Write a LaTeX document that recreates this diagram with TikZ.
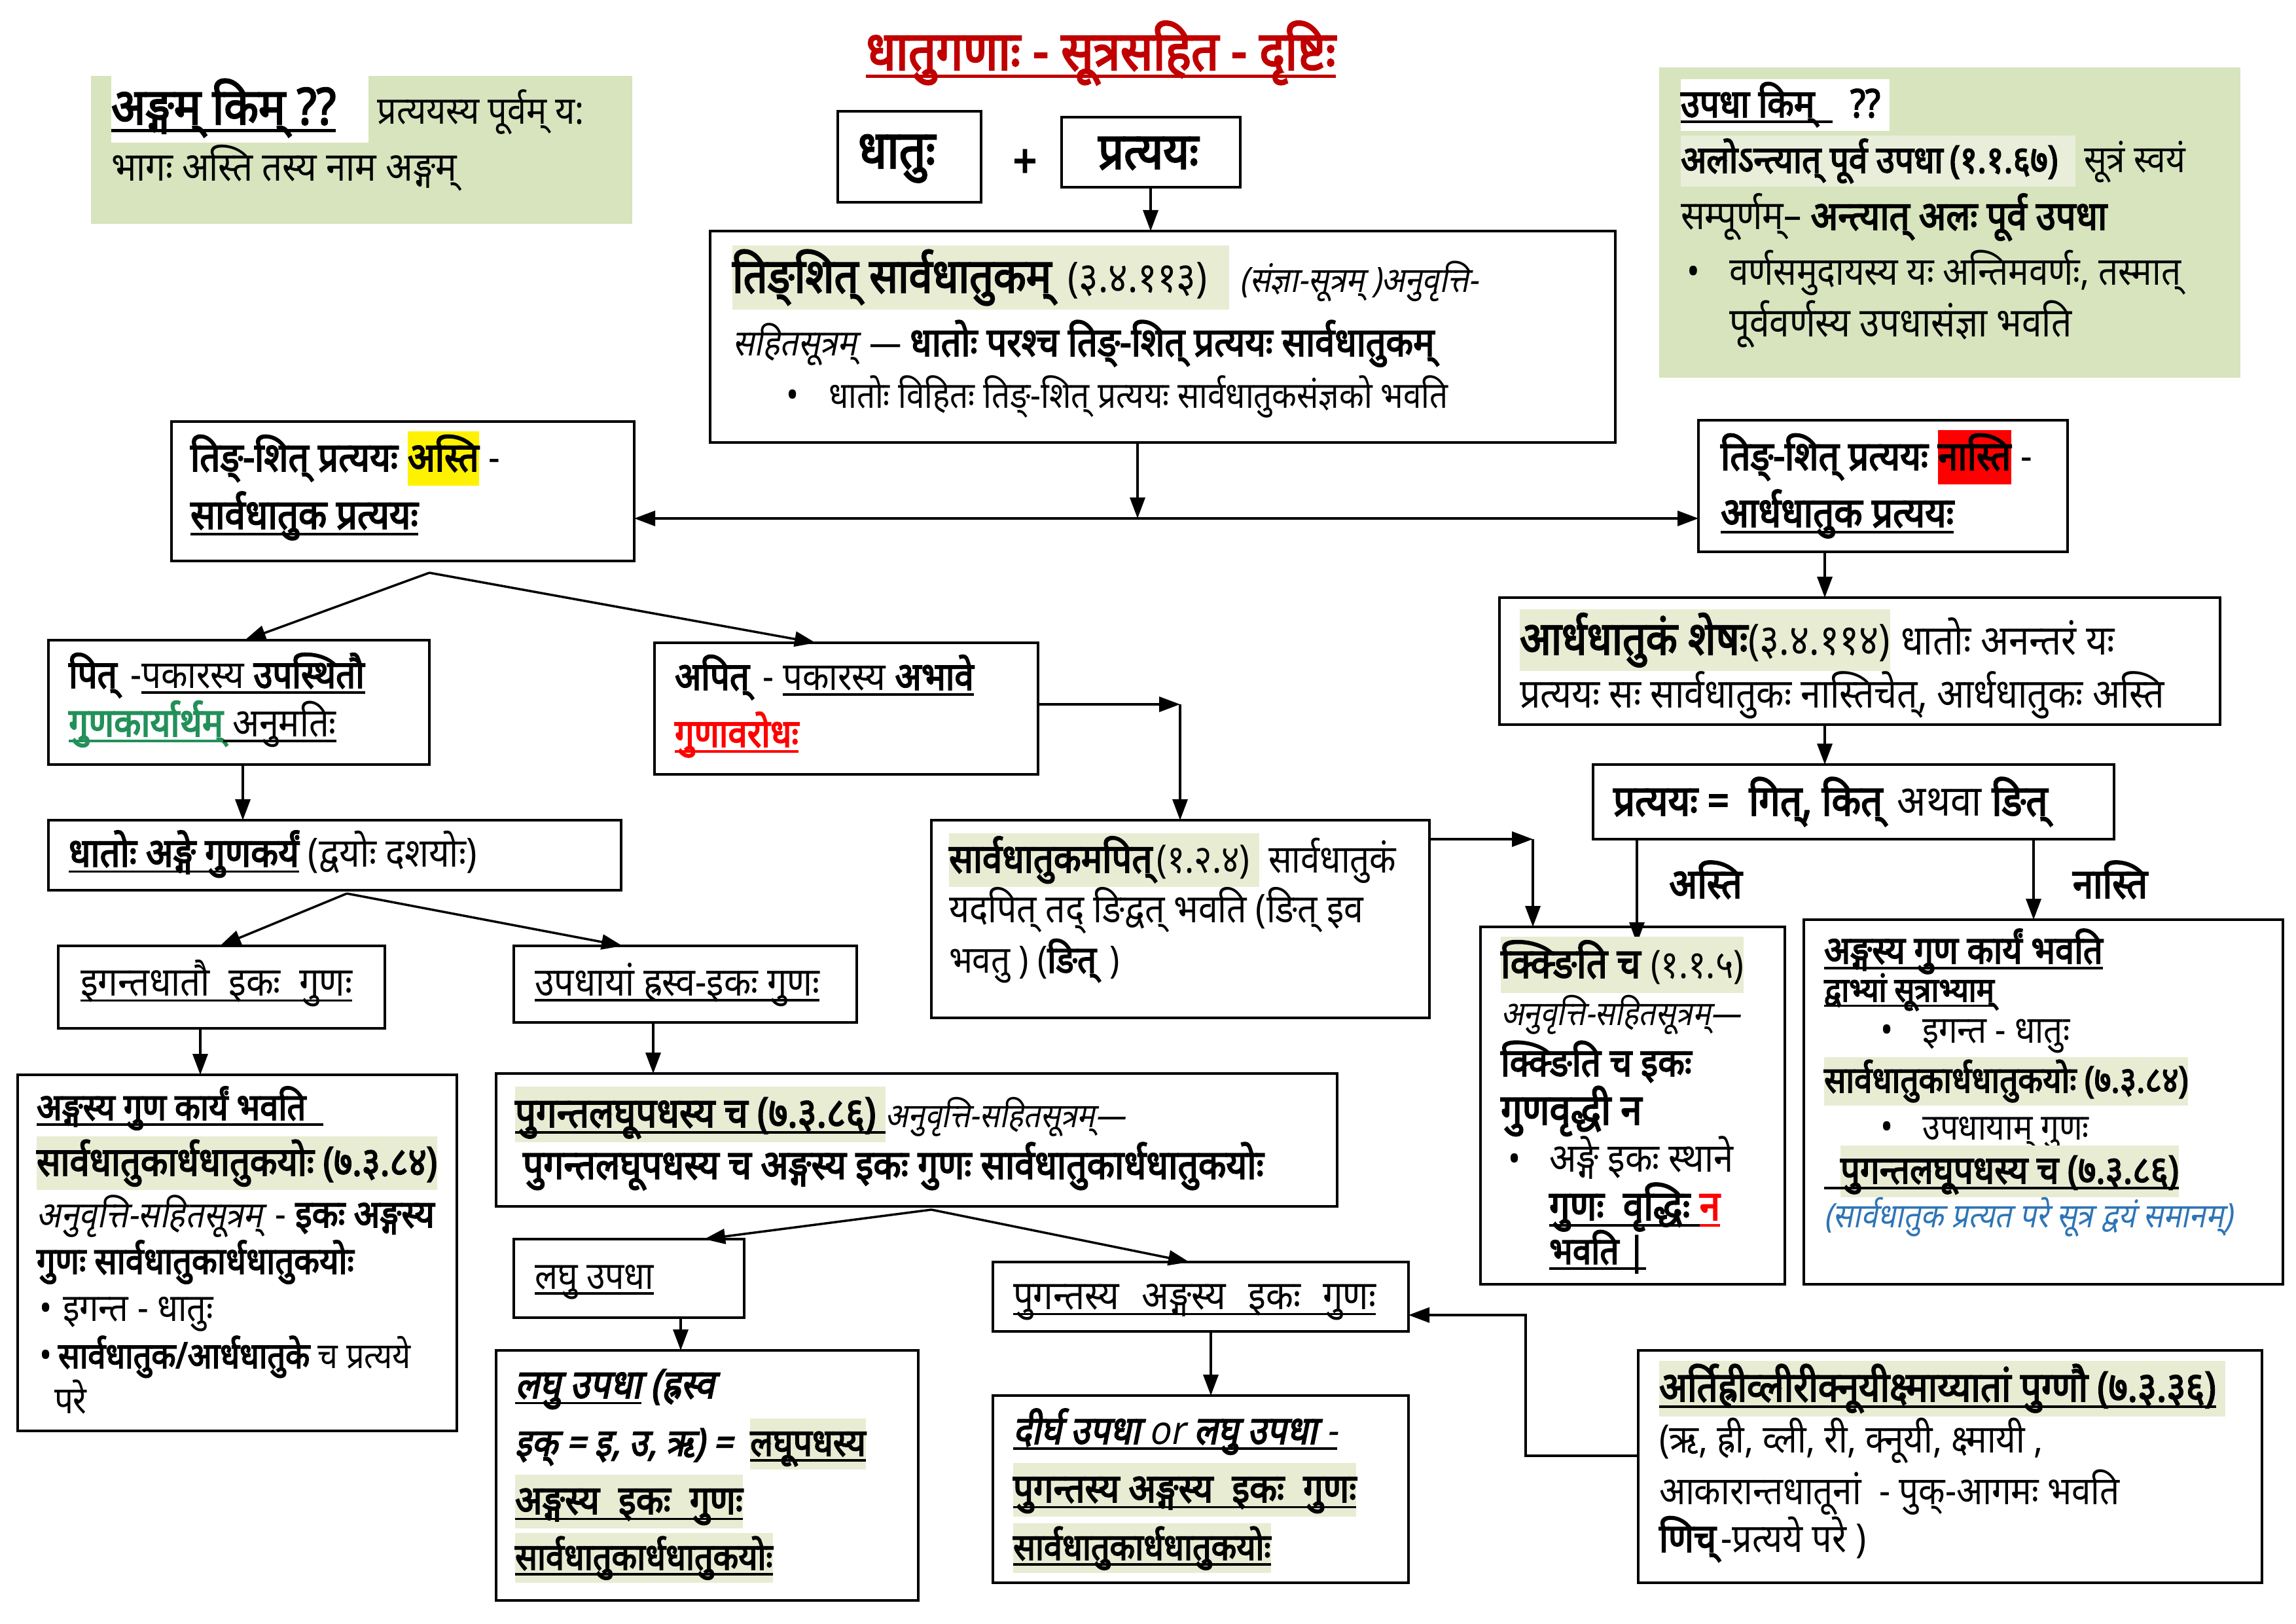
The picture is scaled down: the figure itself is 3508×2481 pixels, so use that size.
\documentclass[tikz,border=0pt]{standalone}
\usepackage{fontspec}
\setmainfont{Noto Sans}[Script=Devanagari, FakeStretch=0.885, BoldFont={Noto Sans}, BoldFeatures={FakeBold=3}, ItalicFont={Noto Sans}, ItalicFeatures={FakeSlant=0.2}, BoldItalicFont={Noto Sans}, BoldItalicFeatures={FakeSlant=0.2, FakeBold=3}]
\usetikzlibrary{arrows.meta,fit}
\definecolor{boxgreen}{HTML}{D7E4BD}
\definecolor{hlc}{HTML}{E8ECD3}
\definecolor{hlv}{HTML}{E9EEDA}
\definecolor{titlered}{HTML}{C00000}
\definecolor{dgreen}{HTML}{23905A}
\definecolor{blu}{HTML}{2E75B6}
\newcommand\fs[1]{\fontsize{\fpeval{#1*1.13}}{\fpeval{#1*1.13}}\selectfont}
\newcommand\ul[1]{\setbox0=\hbox{#1}\leavevmode\copy0\llap{\vrule height -0.09em depth 0.15em width \wd0}}
\newcommand\hl[2][hlc]{{\setlength\fboxsep{0pt}\colorbox{#1}{\vrule height 0.98em depth 0.36em width 0pt\relax#2}}}
\tikzset{
  box/.style={draw, line width=0.35mm, inner sep=0pt, outer sep=0pt},
  gbox/.style={fill=boxgreen, draw=none, inner sep=0pt, outer sep=0pt},
  txt/.style={anchor=base west, inner sep=0pt, outer sep=0pt, font=\fs{14.5}},
  arr/.style={-{Triangle[length=3.2mm,width=2.3mm]}, line width=0.35mm},
}
\begin{document}
\begin{tikzpicture}[x=0.1mm,y=-0.1mm]
\fill[white] (0,0) rectangle (3508,2481);
\useasboundingbox (0,0) rectangle (3508,2481);

% title
\node[anchor=base, inner sep=0pt] (title) at (1682,107) {\fs{21}\bfseries\color{titlered}\ul{धातुगणाः - सूत्रसहित - दृष्टिः}};

% Box A
\node[gbox, fit={(139,116) (966,342)}] (A) {};
\node[txt, font=\fs{14.8}] (a1) at (170,190) {{\fs{19.5}\hl[white]{\textbf{\ul{अङ्गम्  किम्  ??}}\hspace{5mm}}}\ प्रत्ययस्य पूर्वम् य:};
\node[txt, font=\fs{15.5}] (a2) at (170,277) {भागः अस्ति तस्य  नाम अङ्गम्};

% dhatu + pratyaya
\node[box, fit={(1280,170) (1499,309)}] (dh) {};
\node[txt, font=\fs{20.4}\bfseries] (dht) at (1311,257) {धातुः};
\node[inner sep=0pt, font=\fs{18}\bfseries] (plus) at (1566,250) {+};
\node[box, fit={(1622,179) (1895,286)}] (pr) {};
\node[txt, font=\fs{19.6}\bfseries] (prt) at (1678,258) {प्रत्ययः};

% Box B
\node[box, fit={(1085,353) (2468,676)}] (B) {};
\draw[arr] (pr.south -| 1758,0) -- (B.north -| 1758,0);
\node[txt, font=\fs{18.4}] (b1) at (1119,447) {\hl{\textbf{तिङ्शित्  सार्वधातुकम्} {\fs{16.2}(३.४.११३)}\ \ }\ {\fs{13.4}\textit{(संज्ञा-सूत्रम् )अनुवृत्ति-}}};
\node[txt, font=\fs{14}] (b2) at (1119,544) {\textit{सहितसूत्रम्} — \textbf{\fs{15.4}धातोः  परश्च  तिङ्-शित्  प्रत्ययः  सार्वधातुकम्}};
\node[txt] (b3b) at (1201,624) {•};
\node[txt, font=\fs{14}] (b3) at (1266,624) {धातोः  विहितः  तिङ्-शित्  प्रत्ययः  सार्वधातुकसंज्ञको  भवति};

% Box C and D
\node[box, fit={(262,644) (969,857)}] (C) {};
\node[txt, font=\fs{15.6}] (c1) at (291,720) {\textbf{तिङ्-शित्  प्रत्ययः} \hl[yellow]{\textbf{अस्ति}} -};
\node[txt, font=\fs{16}] (c2) at (291,808) {\textbf{\ul{सार्वधातुक प्रत्ययः}}};
\node[box, fit={(2595,642) (3159,843)}] (D) {};
\node[txt, font=\fs{15.6}] (d1) at (2629,718) {\textbf{तिङ्-शित्  प्रत्ययः} \hl[red]{\textbf{नास्ति}} -};
\node[txt, font=\fs{16}] (d2) at (2629,805) {\textbf{\ul{आर्धधातुक  प्रत्ययः}}};
\coordinate (jn) at (1738,792);
\draw[arr] (B.south -| jn) -- (jn);
\draw[arr] (jn) -- (C.east |- jn);
\draw[arr] (jn) -- (D.west |- jn);

% Box E, F
\node[box, fit={(2291,913) (3392,1107)}] (E) {};
\draw[arr] (D.south -| 2788,0) -- (E.north -| 2788,0);
\node[txt, font=\fs{17.8}] (e1) at (2322,1000) {\hl{\textbf{आर्धधातुकं  शेषः}{\fs{16.5}(३.४.११४)}}\ {\fs{16}धातोः  अनन्तरं  यः}};
\node[txt, font=\fs{15.7}] (e2) at (2322,1081) {प्रत्ययः  सः  सार्वधातुकः  नास्तिचेत्, आर्धधातुकः  अस्ति};
\node[box, fit={(2434,1168) (3230,1282)}] (F) {};
\draw[arr] (E.south -| 2788,0) -- (F.north -| 2788,0);
\node[txt, font=\fs{16.5}] (f1) at (2465,1246) {\textbf{प्रत्ययः =  \ गित्, कित्} अथवा \textbf{ङित्}};

% Box G, H
\node[box, fit={(2262,1416) (2727,1962)}] (G) {};
\node[box, fit={(2756,1405) (3488,1962)}] (H) {};
\draw[arr, shorten >=-2.5mm] (F.south -| 2501,0) -- (G.north -| 2501,0);
\draw[arr] (F.south -| 3107,0) -- (H.north -| 3107,0);
\node[anchor=base, inner sep=0pt, font=\fs{16}\bfseries] (lasti) at (2606,1372) {अस्ति};
\node[anchor=base, inner sep=0pt, font=\fs{16}\bfseries] (lnasti) at (3224,1372) {नास्ति};

\node[txt, font=\fs{16.1}] (g1) at (2293,1494) {\hl{\textbf{क्क्ङिति  च} {\fs{15}(१.१.५)}}};
\node[txt, font=\fs{13}] (g2) at (2293,1566) {\textit{अनुवृत्ति-सहितसूत्रम्—}};
\node[txt, font=\fs{15.1}\bfseries] (g3) at (2293,1644) {क्क्ङिति  च  इकः};
\node[txt, font=\fs{16.5}\bfseries] (g4) at (2293,1718) {गुणवृद्धी  न};
\node[txt] (g5b) at (2304,1790) {•};
\node[txt, font=\fs{15.4}] (g5) at (2367,1790) {अङ्गे  इकः  स्थाने};
\node[txt, font=\fs{16}\bfseries] (g6) at (2367,1864) {\ul{गुणः  \ वृद्धिः }\textcolor{red}{\ul{न}}};
\node[txt, font=\fs{14.5}\bfseries] (g7) at (2367,1931) {\ul{भवति |}};

\node[txt, font=\fs{14.9}\bfseries] (h1) at (2787,1472) {\ul{अङ्गस्य गुण  कार्यं  भवति}};
\node[txt, font=\fs{13}\bfseries] (h2) at (2787,1530) {\ul{द्वाभ्यां सूत्राभ्याम्}};
\node[txt] (h3b) at (2873,1593) {•};
\node[txt] (h3) at (2937,1593) {इगन्त - धातुः};
\node[txt, font=\fs{14}] (h4) at (2787,1669) {\hl{\textbf{सार्वधातुकार्धधातुकयोः (७.३.८४)}}};
\node[txt] (h5b) at (2873,1741) {•};
\node[txt, font=\fs{14}] (h5) at (2937,1741) {उपधायाम्  गुणः};
\node[txt, font=\fs{15}] (h6) at (2787,1808) {\ul{\hspace{2.5mm}\hl{\textbf{पुगन्तलघूपधस्य  च (७.३.८६)}}}};
\node[txt, font=\fs{13}] (h7) at (2787,1875) {\textcolor{blu}{\textit{(सार्वधातुक  प्रत्यत  परे  सूत्र  द्वयं समानम्)}}};

% Left: I, J
\node[box, fit={(74,978) (656,1168)}] (I) {};
\node[box, fit={(1000,982) (1586,1183)}] (J) {};
\coordinate (cs) at (656,875);
\draw[arr] (cs) -- (I.north -| 374,0);
\draw[arr] (cs) -- (J.north -| 1246,0);
\node[txt, font=\fs{15}] (i1) at (105,1051) {\textbf{पित्} -\ul{पकारस्य  \textbf{उपस्थितौ}}};
\node[txt, font=\fs{15.3}] (i2) at (105,1125) {\textcolor{dgreen}{\textbf{\ul{गुणकार्यार्थम्}}}\ul{ अनुमतिः}};
\node[txt, font=\fs{15}] (j1) at (1031,1054) {\textbf{अपित्}  - \ul{पकारस्य  \textbf{अभावे}}};
\node[txt, font=\fs{15}] (j2) at (1031,1141) {\textcolor{red}{\textbf{\ul{गुणावरोधः}}}};

% U
\node[box, fit={(1423,1253) (2184,1555)}] (U) {};
\coordinate (jU) at (1803,1076);
\draw[arr] (J.east |- jU) -- (jU);
\draw[arr] (jU) -- (U.north -| jU);
\coordinate (uG) at (2342,1282);
\draw[arr] (U.east |- uG) -- (uG);
\draw[arr] (uG) -- (G.north -| uG);
\node[txt, font=\fs{15.5}] (u1) at (1450,1333) {\hl{\textbf{सार्वधातुकमपित्}{\fs{15}(१.२.४)}\ }\ {\fs{15}सार्वधातुकं}};
\node[txt, font=\fs{15.2}] (u2) at (1450,1409) {यदपित्  तद् ङिद्वत्  भवति (ङित्  इव};
\node[txt, font=\fs{14.5}] (u3) at (1450,1486) {भवतु ) (\textbf{ङित्} )};

% K
\node[box, fit={(74,1253) (949,1360)}] (K) {};
\draw[arr] (I.south -| 371,0) -- (K.north -| 371,0);
\node[txt, font=\fs{15.5}] (k1) at (105,1324) {\textbf{\ul{धातोः  अङ्गे  गुणकर्यं}} (द्वयोः दशयोः)};

% L, M
\node[box, fit={(89,1445) (588,1571)}] (L) {};
\node[box, fit={(785,1445) (1309,1562)}] (M) {};
\coordinate (ks) at (530,1365);
\draw[arr] (ks) -- (L.north -| 336,0);
\draw[arr] (ks) -- (M.north -| 951,0);
\node[txt, font=\fs{15.5}] (l1) at (123,1521) {\ul{इगन्तधातौ \ इकः \ गुणः}};
\node[txt, font=\fs{15.3}] (m1) at (817,1521) {\ul{उपधायां  ह्रस्व-इकः  गुणः}};

% N
\node[box, fit={(27,1642) (698,2186)}] (N) {};
\draw[arr] (L.south -| 306,0) -- (N.north -| 306,0);
\node[txt, font=\fs{14.4}\bfseries] (n1) at (56,1711) {\ul{अङ्गस्य गुण  कार्यं  भवति\ \ }};
\node[txt, font=\fs{15.4}] (n2) at (56,1796) {\hl{\textbf{सार्वधातुकार्धधातुकयोः (७.३.८४)}}};
\node[txt, font=\fs{14.8}] (n3) at (56,1875) {\textit{\fs{14}अनुवृत्ति-सहितसूत्रम्} - \textbf{इकः  अङ्गस्य}};
\node[txt, font=\fs{14.4}\bfseries] (n4) at (56,1946) {गुणः सार्वधातुकार्धधातुकयोः};
\node[txt] (n5b) at (60,2018) {•};
\node[txt, font=\fs{14.8}] (n5) at (96,2018) {इगन्त - धातुः};
\node[txt] (n6b) at (60,2090) {•};
\node[txt, font=\fs{13.8}] (n6) at (89,2090) {\textbf{सार्वधातुक/आर्धधातुके}  च  प्रत्यये};
\node[txt] (n7) at (83,2159) {परे};

% O
\node[box, fit={(758,1640) (2043,1843)}] (O) {};
\draw[arr] (M.south -| 998,0) -- (O.north -| 998,0);
\node[txt, font=\fs{16}] (o1) at (787,1722) {\hl{\textbf{\ul{पुगन्तलघूपधस्य  च (७.३.८६)\ }}}{\fs{13}\textit{अनुवृत्ति-सहितसूत्रम्—}}};
\node[txt, font=\fs{15.7}\bfseries] (o2) at (799,1801) {पुगन्तलघूपधस्य च  अङ्गस्य  इकः  गुणः  सार्वधातुकार्धधातुकयोः};

% P, Q
\node[box, fit={(785,1893) (1137,2013)}] (P) {};
\node[box, fit={(1517,1928) (2152,2034)}] (Q) {};
\coordinate (os) at (1423,1848);
\draw[arr] (os) -- (P.north -| 1076,0);
\draw[arr] (os) -- (Q.north -| 1817,0);
\node[txt, font=\fs{14.7}] (p1) at (817,1969) {\ul{लघु  उपधा}};
\node[txt, font=\fs{15.5}] (q1) at (1548,2000) {\ul{पुगन्तस्य\hspace{2mm} अङ्गस्य\hspace{2mm} इकः\hspace{2mm} गुणः}};

% R
\node[box, fit={(758,2063) (1403,2445)}] (R) {};
\draw[arr] (P.south -| 1040,0) -- (R.north -| 1040,0);
\node[txt, font=\fs{15.6}] (r1) at (787,2136) {\textit{\textbf{\ul{लघु  उपधा}  (ह्रस्व}}};
\node[txt, font=\fs{14.7}] (r2) at (787,2224) {\textit{\textbf{इक् = इ, उ, ऋ) =}}\ \ \hl{\textbf{\ul{लघूपधस्य}}}};
\node[txt, font=\fs{15.5}] (r3) at (787,2313) {\hl{\textbf{\ul{अङ्गस्य\hspace{1.5mm} इकः\hspace{1.5mm} गुणः}}}};
\node[txt, font=\fs{14.3}] (r4) at (787,2398) {\hl{\textbf{\ul{सार्वधातुकार्धधातुकयोः}}}};

% S
\node[box, fit={(1517,2132) (2152,2418)}] (S) {};
\draw[arr] (Q.south -| 1850,0) -- (S.north -| 1850,0);
\node[txt, font=\fs{15.2}] (s1) at (1548,2206) {\ul{\textit{\textbf{दीर्घ  उपधा} or \textbf{लघु  उपधा}  -}}};
\node[txt, font=\fs{15.5}] (s2) at (1548,2295) {\hl{\textbf{\ul{पुगन्तस्य अङ्गस्य\hspace{1.5mm} इकः\hspace{1.5mm} गुणः}}}};
\node[txt, font=\fs{14.3}] (s3) at (1548,2383) {\hl{\textbf{\ul{सार्वधातुकार्धधातुकयोः}}}};

% T
\node[box, fit={(2503,2063) (3456,2418)}] (T) {};
\coordinate (tq1) at (2331,2224);
\coordinate (tq2) at (2331,2009);
\draw[arr] (T.west |- tq1) -- (tq1) -- (tq2) -- (Q.east |- tq2);
\node[txt, font=\fs{16}] (t1) at (2535,2141) {\hl{\textbf{\ul{अर्तिह्रीव्लीरीक्नूयीक्ष्माय्यातां  पुग्णौ (७.३.३६)}}\ }};
\node[txt, font=\fs{15}] (t2) at (2535,2219) {(ऋ, ह्री, व्ली, री, क्नूयी, क्ष्मायी ,};
\node[txt, font=\fs{15}] (t3) at (2535,2298) {आकारान्तधातूनां \ - पुक्-आगमः  भवति};
\node[txt, font=\fs{15.3}] (t4) at (2535,2371) {\textbf{णिच्}-प्रत्यये  परे )};

% V
\node[gbox, fit={(2535,103) (3423,577)}] (V) {};
\node[txt, font=\fs{15}] (v1) at (2568,179) {\hl[white]{\textbf{\ul{उपधा  किम्\ \ }}\ \ \textbf{??}\ }};
\node[txt, font=\fs{14.6}] (v2) at (2568,264) {\hl[hlv]{\textbf{अलोऽन्त्यात्  पूर्व  उपधा}\,\textbf{(१.१.६७)}\ \ }\ सूत्रं स्वयं};
\node[txt, font=\fs{15.5}] (v3) at (2568,351) {सम्पूर्णम्– \textbf{अन्त्यात्  अलः  पूर्व  उपधा}};
\node[txt, font=\fs{15}] (v4b) at (2577,436) {•};
\node[txt, font=\fs{15}] (v4) at (2642,436) {वर्णसमुदायस्य  यः  अन्तिमवर्णः, तस्मात्};
\node[txt, font=\fs{15.6}] (v5) at (2642,515) {पूर्ववर्णस्य  उपधासंज्ञा  भवति};
\end{tikzpicture}
\end{document}
